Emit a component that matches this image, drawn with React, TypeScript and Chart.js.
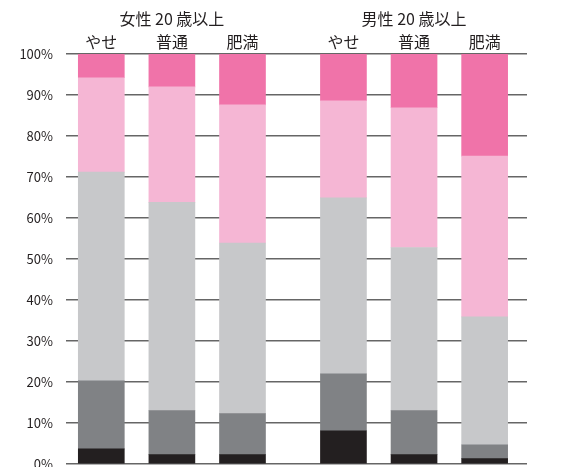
import React, { useEffect, useRef } from "react";
import { Chart, registerables } from "chart.js";

Chart.register(...registerables);

// Categories (bars), left to right
const groupLabels = ["女性 20 歳以上", "男性 20 歳以上"];
const categoryLabels = ["やせ", "普通", "肥満", "やせ", "普通", "肥満"];

// Segment values (% of each bar), bottom to top
const seriesBlack = [3.7, 2.3, 2.3, 8.1, 2.3, 1.3];
const seriesDarkGray = [16.6, 10.7, 10.0, 13.9, 10.7, 3.4];
const seriesLightGray = [50.9, 50.8, 41.6, 42.9, 39.8, 31.2];
const seriesLightPink = [23.0, 28.2, 33.7, 23.7, 34.1, 39.2];
const seriesPink = [5.8, 8.0, 12.4, 11.4, 13.1, 24.9];

// y-axis ticks
const yTicks = [0, 10, 20, 30, 40, 50, 60, 70, 80, 90, 100];

// layout: slot positions on the x scale (group gap between the two groups)
const barSlots = [1, 2, 3, 4.43, 5.43, 6.43];
const groupSlots = [2, 5.43];

const FONT = "'Noto Sans CJK JP', 'Noto Sans', sans-serif";

export default function App() {
  const ref = useRef<HTMLCanvasElement | null>(null);

  useEffect(() => {
    if (!ref.current) return;
    const mk = (label: string, vals: number[], color: string) => ({
      label,
      data: vals.map((v, i) => ({ x: barSlots[i], y: v })),
      backgroundColor: color,
      borderWidth: 0,
      barThickness: 46,
    });
    const chart = new Chart(ref.current, {
      type: "bar",
      data: {
        datasets: [
          mk("a", seriesBlack, "#231f20"),
          mk("b", seriesDarkGray, "#808285"),
          mk("c", seriesLightGray, "#c7c8ca"),
          mk("d", seriesLightPink, "#f5b6d4"),
          mk("e", seriesPink, "#f073a9"),
        ],
      },
      options: {
        animation: false,
        responsive: false,
        maintainAspectRatio: false,
        layout: { padding: { left: 0, right: 38, top: 0, bottom: 3 } },
        plugins: { legend: { display: false }, tooltip: { enabled: false } },
        scales: {
          x: {
            type: "linear",
            position: "top",
            stacked: true,
            offset: false,
            min: 0.5,
            max: 7.03,
            weight: 0,
            grid: { display: false, drawTicks: false, offset: false },
            border: { display: false },
            afterBuildTicks: (s: any) => {
              s.ticks = barSlots.map((v) => ({ value: v }));
            },
            afterFit: (s: any) => {
              s.height = 24;
              s.paddingLeft = 0;
              s.paddingRight = 0;
            },
            ticks: {
              autoSkip: false,
              maxRotation: 0,
              padding: 2,
              color: "#231f20",
              font: { family: FONT, size: 16 },
              callback: (_v: any, i: number) => categoryLabels[i],
            },
          },
          x2: {
            type: "linear",
            position: "top",
            offset: false,
            min: 0.5,
            max: 7.03,
            weight: 1,
            grid: { display: false, drawTicks: false, offset: false },
            border: { display: false },
            afterBuildTicks: (s: any) => {
              s.ticks = groupSlots.map((v) => ({ value: v }));
            },
            afterFit: (s: any) => {
              s.height = 30;
              s.paddingLeft = 0;
              s.paddingRight = 0;
            },
            ticks: {
              autoSkip: false,
              maxRotation: 0,
              padding: 1,
              color: "#231f20",
              font: { family: FONT, size: 16 },
              callback: (_v: any, i: number) => groupLabels[i],
            },
          },
          y: {
            stacked: true,
            min: 0,
            max: 100,
            grid: { color: "#666666", lineWidth: 1.5, drawTicks: false },
            border: { display: false },
            afterBuildTicks: (s: any) => {
              s.ticks = yTicks.map((v) => ({ value: v }));
            },
            afterFit: (s: any) => {
              s.width = 66;
              s.paddingTop = 0;
              s.paddingBottom = 0;
            },
            ticks: {
              padding: 13,
              color: "#231f20",
              font: { family: FONT, size: 13 },
              callback: (v: any) => v + "%",
            },
          },
        },
      },
    });
    return () => chart.destroy();
  }, []);

  return (
    <div style={{ position: "fixed", left: 0, top: 0, width: 565, height: 467, background: "#fff" }}>
      <canvas ref={ref} width={565} height={467} style={{ display: "block", width: 565, height: 467 }} />
    </div>
  );
}
